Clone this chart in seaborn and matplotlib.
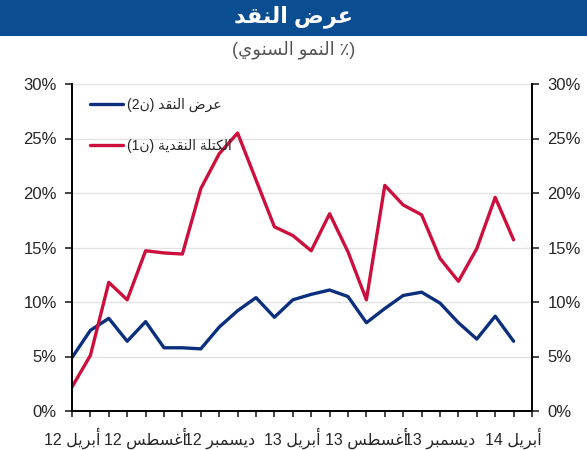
import numpy as np
import pandas as pd
import seaborn as sns
import matplotlib.pyplot as plt
from matplotlib.patches import Rectangle
from matplotlib.ticker import FuncFormatter

# monthly data, April 2012 .. April 2014 (% yoy)
months = list(range(25))
m2 = [4.9, 7.4, 8.5, 6.4, 8.2, 5.8, 5.8, 5.7, 7.7, 9.2, 10.4, 8.6, 10.2,
      10.7, 11.1, 10.5, 8.1, 9.4, 10.6, 10.9, 9.9, 8.1, 6.6, 8.7, 6.4]
m1 = [2.2, 5.1, 11.8, 10.2, 14.7, 14.5, 14.4, 20.4, 23.6, 25.5, 21.2, 16.9, 16.1,
      14.7, 18.1, 14.6, 10.2, 20.7, 18.9, 18.0, 14.0, 11.9, 14.9, 19.6, 15.7]
tick_months = [0, 4, 8, 12, 16, 20, 24]
tick_names = ["أبريل", "أغسطس", "ديسمبر", "أبريل", "أغسطس", "ديسمبر", "أبريل"]
tick_years = ["12", "12", "12", "13", "13", "13", "14"]

# --- tiny arabic shaper (matplotlib has no text shaping) ---
forms = {
    'ا': (0xFE8D, 0xFE8E, None, None), 'أ': (0xFE83, 0xFE84, None, None),
    'ب': (0xFE8F, 0xFE90, 0xFE91, 0xFE92), 'ة': (0xFE93, 0xFE94, None, None),
    'ت': (0xFE95, 0xFE96, 0xFE97, 0xFE98), 'د': (0xFEA9, 0xFEAA, None, None),
    'ر': (0xFEAD, 0xFEAE, None, None), 'س': (0xFEB1, 0xFEB2, 0xFEB3, 0xFEB4),
    'ص': (0xFEB9, 0xFEBA, 0xFEBB, 0xFEBC), 'ض': (0xFEBD, 0xFEBE, 0xFEBF, 0xFEC0),
    'ط': (0xFEC1, 0xFEC2, 0xFEC3, 0xFEC4), 'ع': (0xFEC9, 0xFECA, 0xFECB, 0xFECC),
    'غ': (0xFECD, 0xFECE, 0xFECF, 0xFED0), 'ق': (0xFED5, 0xFED6, 0xFED7, 0xFED8),
    'ك': (0xFED9, 0xFEDA, 0xFEDB, 0xFEDC), 'ل': (0xFEDD, 0xFEDE, 0xFEDF, 0xFEE0),
    'م': (0xFEE1, 0xFEE2, 0xFEE3, 0xFEE4), 'ن': (0xFEE5, 0xFEE6, 0xFEE7, 0xFEE8),
    'و': (0xFEED, 0xFEEE, None, None), 'ي': (0xFEF1, 0xFEF2, 0xFEF3, 0xFEF4),
}


def ar(s):
    out = []
    for i, c in enumerate(s):
        if c not in forms:
            out.append(c)
            continue
        p = s[i - 1] if i > 0 else ''
        n = s[i + 1] if i + 1 < len(s) else ''
        join_prev = p in forms and forms[p][2] is not None
        join_next = n in forms and forms[c][2] is not None
        iso, fin, ini, med = forms[c]
        if join_prev and join_next:
            g = med
        elif join_prev:
            g = fin
        elif join_next:
            g = ini
        else:
            g = iso
        out.append(chr(g))
    return ''.join(out)[::-1]


df = pd.DataFrame({
    'month': months * 2,
    'value': m2 + m1,
    'series': ['m2'] * 25 + ['m1'] * 25,
})

sns.set_style('white')
plt.rcParams['font.family'] = ['Liberation Sans', 'DejaVu Sans']

fig = plt.figure(figsize=(5.87, 4.5), dpi=100)
ax = fig.add_axes([72 / 587, 39 / 450, 460 / 587, 327 / 450])

sns.lineplot(data=df, x='month', y='value', hue='series',
             palette={'m2': '#0b2f7d', 'm1': '#cc0f3c'}, linewidth=2.4, ax=ax)

ax.set_xlim(0, 25)
ax.set_ylim(0, 30)
ax.set_yticks(range(0, 31, 5))
ax.yaxis.set_major_formatter(FuncFormatter(lambda v, p: f"{v:.0f}%"))
ax.set_xticks(range(0, 26))
ax.set_xticklabels(['' for _ in range(26)])
for m, nm, yr in zip(tick_months, tick_names, tick_years):
    ax.annotate(yr + ' ' + ar(nm), xy=(m, 0), xycoords=('data', 'axes fraction'),
                xytext=(0, -24), textcoords='offset points', ha='center',
                va='baseline', fontsize=11.5)
ax.grid(axis='y', color='#e3e3e3', linewidth=1)
ax.set_axisbelow(True)
ax.set_xlabel('')
ax.set_ylabel('')
ax.tick_params(axis='y', left=True, right=True, labelleft=True, labelright=True,
               direction='out', length=5, width=1.2, labelsize=12, pad=6)
ax.tick_params(axis='x', bottom=True, direction='out', length=4, width=1.2)
for s in ['left', 'right', 'bottom']:
    ax.spines[s].set_visible(True)
    ax.spines[s].set_color('black')
    ax.spines[s].set_linewidth(1.4)
ax.spines['top'].set_visible(False)

h, l = ax.get_legend_handles_labels()
labels = ['(2' + ar('ن') + ') ' + ar('عرض النقد'),
          '(1' + ar('ن') + ') ' + ar('الكتلة النقدية')]
ax.legend(h, labels, loc='upper left', bbox_to_anchor=(0.012, 0.995), frameon=False,
          fontsize=10, handlelength=2.4, handletextpad=0.25, labelspacing=1.9)

# title banner
fig.patches.append(Rectangle((0, 1 - 36 / 450), 1, 36 / 450, transform=fig.transFigure,
                             facecolor='#0a4d91', edgecolor='none', zorder=0))
fig.text(0.5, 1 - 17 / 450, ar('عرض النقد'), color='white', fontsize=16,
         fontweight='bold', ha='center', va='center')
fig.text(0.5, 1 - 50 / 450, '(' + ar('٪ النمو السنوي') + ')', color='#555555',
         fontsize=13, ha='center', va='center')

fig.savefig('out.png', dpi=100)
